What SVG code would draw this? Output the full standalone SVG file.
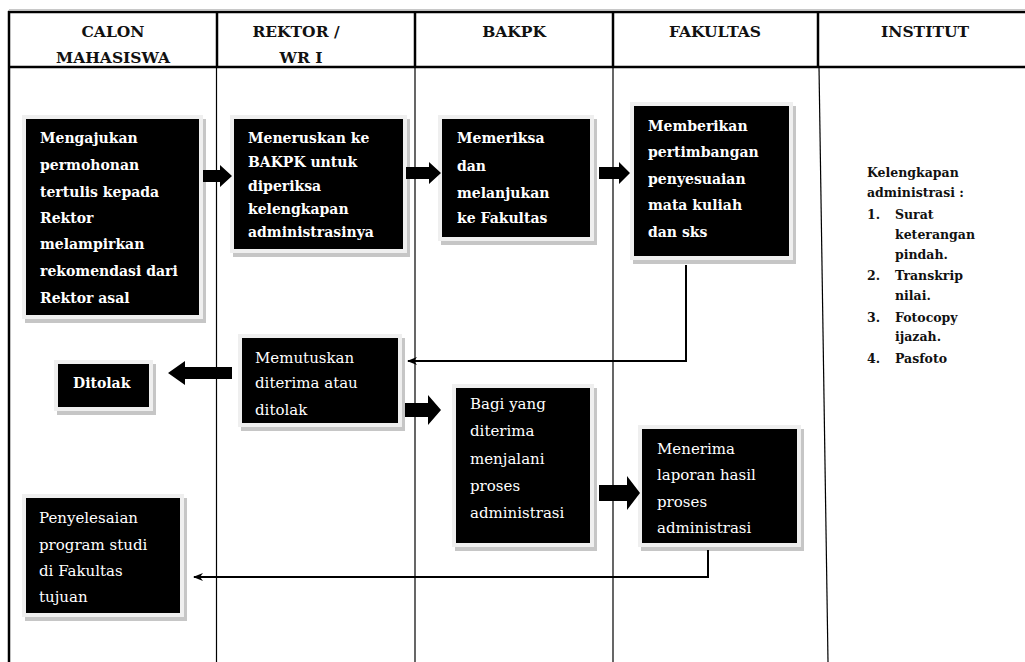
<svg xmlns="http://www.w3.org/2000/svg" width="1025" height="662" viewBox="0 0 1025 662">
<style>
.hdr{font-family:"DejaVu Serif","Liberation Serif",serif;font-weight:bold;font-size:15.5px;fill:#111;text-anchor:middle}
.bt{font-family:"DejaVu Serif","Liberation Serif",serif;font-weight:bold;font-size:14px;fill:#fff}
.rt{font-family:"DejaVu Serif","Liberation Serif",serif;font-size:15px;fill:#fff}
.note{font-family:"DejaVu Serif","Liberation Serif",serif;font-weight:bold;font-size:12.5px;fill:#111}
.sh{fill:#c6c6c6}
.fr{fill:#efefef}
.bk{fill:#000}
.thick{stroke:#000;stroke-width:2.5;fill:none}
.thin{stroke:#000;stroke-width:1.2;fill:none}
.conn{stroke:#000;stroke-width:2;fill:none}
.blk{fill:#000}
</style>
<defs>
<marker id="ah" markerWidth="10" markerHeight="8" refX="9" refY="4" orient="auto" markerUnits="userSpaceOnUse">
<path d="M0,0 L10,4 L0,8 L3,4 Z" fill="#000"/>
</marker>
</defs>
<rect x="0" y="0" width="1025" height="662" fill="#fff"/>
<g id="table">
<line x1="9" y1="9.5" x2="1025" y2="9.5" stroke="#c8c8c8" stroke-width="1"/>
<line class="thick" x1="8" y1="12" x2="1025" y2="12"/>
<line class="thick" x1="8" y1="67" x2="1025" y2="67"/>
<line class="thick" x1="9" y1="11" x2="9" y2="662"/>
<line class="thick" x1="217" y1="12" x2="217" y2="67"/>
<line class="thick" x1="415" y1="12" x2="415" y2="67"/>
<line class="thick" x1="613" y1="12" x2="613" y2="67"/>
<line class="thick" x1="818" y1="12" x2="818" y2="67"/>
<line class="thin" x1="216.5" y1="67" x2="216.5" y2="662"/>
<line class="thin" x1="415" y1="67" x2="415" y2="662"/>
<line class="thin" x1="613" y1="67" x2="613" y2="662"/>
<line class="thin" x1="819" y1="67" x2="828" y2="662"/>
<text class="hdr" x="113" y="37">CALON</text>
<text class="hdr" x="113" y="63">MAHASISWA</text>
<text class="hdr" x="296" y="37">REKTOR /</text>
<text class="hdr" x="301" y="63">WR I</text>
<text class="hdr" x="514" y="37">BAKPK</text>
<text class="hdr" x="715" y="37">FAKULTAS</text>
<text class="hdr" x="925" y="37">INSTITUT</text>
</g>
<g id="n1">
<rect class="sh" x="25" y="119" width="181" height="204"/>
<rect class="fr" x="22" y="115" width="181" height="204"/>
<rect class="bk" x="26" y="119" width="173" height="196"/>
<text class="bt"><tspan x="40" y="143">Mengajukan</tspan><tspan x="40" y="170">permohonan</tspan><tspan x="40" y="197">tertulis  kepada</tspan><tspan x="40" y="223">Rektor</tspan><tspan x="40" y="249">melampirkan</tspan><tspan x="40" y="276">rekomendasi dari</tspan><tspan x="40" y="303">Rektor asal</tspan></text>
</g>
<g id="n2">
<rect class="sh" x="233" y="119" width="177" height="138"/>
<rect class="fr" x="230" y="115" width="177" height="138"/>
<rect class="bk" x="234" y="119" width="169" height="130"/>
<text class="bt"><tspan x="248" y="143">Meneruskan ke</tspan><tspan x="248" y="167">BAKPK untuk</tspan><tspan x="248" y="191">diperiksa</tspan><tspan x="248" y="214">kelengkapan</tspan><tspan x="248" y="237">administrasinya</tspan></text>
</g>
<g id="n3">
<rect class="sh" x="441" y="119" width="156" height="126"/>
<rect class="fr" x="438" y="115" width="156" height="126"/>
<rect class="bk" x="442" y="119" width="148" height="118"/>
<text class="bt"><tspan x="457" y="143">Memeriksa</tspan><tspan x="457" y="171">dan</tspan><tspan x="457" y="198">melanjukan</tspan><tspan x="457" y="223">ke Fakultas</tspan></text>
</g>
<g id="n4">
<rect class="sh" x="633" y="106" width="163" height="158"/>
<rect class="fr" x="630" y="102" width="163" height="158"/>
<rect class="bk" x="634" y="106" width="155" height="150"/>
<text class="bt"><tspan x="648" y="131">Memberikan</tspan><tspan x="648" y="157">pertimbangan</tspan><tspan x="648" y="184">penyesuaian</tspan><tspan x="648" y="210">mata kuliah</tspan><tspan x="648" y="237">dan sks</tspan></text>
</g>
<g id="n5">
<rect class="sh" x="57" y="364" width="99" height="51"/>
<rect class="fr" x="54" y="360" width="99" height="51"/>
<rect class="bk" x="58" y="364" width="91" height="43"/>
<text class="bt" x="73" y="388">Ditolak</text>
</g>
<g id="n6">
<rect class="sh" x="241" y="338" width="164" height="93"/>
<rect class="fr" x="238" y="334" width="164" height="93"/>
<rect class="bk" x="242" y="338" width="156" height="85"/>
<text class="rt"><tspan x="255" y="363">Memutuskan</tspan><tspan x="255" y="388">diterima atau</tspan><tspan x="255" y="415">ditolak</tspan></text>
</g>
<g id="n7">
<rect class="sh" x="455" y="388" width="142" height="163"/>
<rect class="fr" x="452" y="384" width="142" height="163"/>
<rect class="bk" x="456" y="388" width="134" height="155"/>
<text class="rt"><tspan x="470" y="409">Bagi yang</tspan><tspan x="470" y="436">diterima</tspan><tspan x="470" y="464">menjalani</tspan><tspan x="470" y="491">proses</tspan><tspan x="470" y="518">administrasi</tspan></text>
</g>
<g id="n8">
<rect class="sh" x="641" y="429" width="163" height="122"/>
<rect class="fr" x="638" y="425" width="163" height="122"/>
<rect class="bk" x="642" y="429" width="155" height="114"/>
<text class="rt"><tspan x="657" y="454">Menerima</tspan><tspan x="657" y="480">laporan hasil</tspan><tspan x="657" y="507">proses</tspan><tspan x="657" y="533">administrasi</tspan></text>
</g>
<g id="n9">
<rect class="sh" x="25" y="498" width="162" height="123"/>
<rect class="fr" x="22" y="494" width="162" height="123"/>
<rect class="bk" x="26" y="498" width="154" height="115"/>
<text class="rt"><tspan x="39" y="523">Penyelesaian</tspan><tspan x="39" y="550">program studi</tspan><tspan x="39" y="576">di Fakultas</tspan><tspan x="39" y="602">tujuan</tspan></text>
</g>
<g id="n10">
<text class="note"><tspan x="867" y="177">Kelengkapan</tspan><tspan x="867" y="197">administrasi :</tspan><tspan x="867" y="219">1.</tspan><tspan x="895" y="219">Surat</tspan><tspan x="895" y="239">keterangan</tspan><tspan x="895" y="259">pindah.</tspan><tspan x="867" y="280">2.</tspan><tspan x="895" y="280">Transkrip</tspan><tspan x="895" y="300">nilai.</tspan><tspan x="867" y="322">3.</tspan><tspan x="895" y="322">Fotocopy</tspan><tspan x="895" y="341">ijazah.</tspan><tspan x="867" y="363">4.</tspan><tspan x="895" y="363">Pasfoto</tspan></text>
</g>
<g id="connectors">
<polygon class="blk" points="203,170 220,170 220,165 232,176 220,187 220,182 203,182"/>
<polygon class="blk" points="406,167 429,167 429,162 441,173 429,184 429,179 406,179"/>
<polygon class="blk" points="599,167 619,167 619,162 630,173 619,184 619,179 599,179"/>
<polygon class="blk" points="232,367 185,367 185,361 168,373 185,385 185,379 232,379"/>
<polygon class="blk" points="405,403 428,403 428,395 441,410 428,425 428,417 405,417"/>
<polygon class="blk" points="599,485 627,485 627,476 640,493 627,510 627,501 599,501"/>
<polyline class="conn" points="686,265 686,361 408,361" marker-end="url(#ah)"/>
<polyline class="conn" points="708,550 708,577 194,577" marker-end="url(#ah)"/>
</g>
</svg>
